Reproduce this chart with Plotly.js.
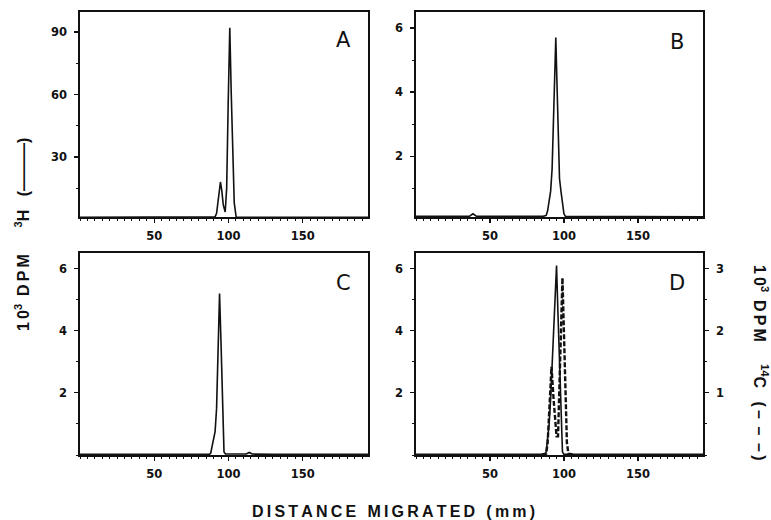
<!DOCTYPE html>
<html>
<head>
<meta charset="utf-8">
<script src="https://cdn.plot.ly/plotly-3.0.1.min.js"></script>
<style>html,body{margin:0;padding:0;background:#fff;}#chart{width:771px;height:520px;}</style>
</head>
<body>
<div id="chart"></div>
<script>
// Panel A: 3H (10^3 DPM)
var xA = [0, 20, 40, 60, 80, 90, 91, 92, 93, 94, 94.6, 95.5, 96.5, 97.8, 98.8, 99.8, 100.9, 101.9, 102.9, 103.9, 105.2, 110, 130, 160, 194];
var yA = [1, 1, 1, 1, 1, 1, 1.3, 3, 8, 15, 18, 14, 7, 3.6, 15, 55, 92, 60, 28, 8, 1.2, 1, 1, 1, 1];

// Panel B
var xB = [0, 10, 20, 30, 36, 38.5, 41, 50, 60, 70, 80, 86, 88, 89, 90, 91, 92, 93, 94, 94.5, 95, 96, 97, 98, 99, 100, 101, 110, 130, 160, 194];
var yB = [0.12, 0.12, 0.12, 0.12, 0.12, 0.2, 0.12, 0.12, 0.11, 0.12, 0.12, 0.12, 0.15, 0.3, 0.6, 0.9, 1.6, 3.0, 5.0, 5.7, 4.8, 2.8, 1.3, 0.9, 0.5, 0.2, 0.12, 0.12, 0.11, 0.11, 0.11];

// Panel C
var xC = [0, 50, 80, 87, 88, 89, 90, 91, 92, 93, 94, 95, 96, 97, 98, 105, 112, 114, 116, 130, 160, 194];
var yC = [0.02, 0.02, 0.02, 0.02, 0.05, 0.25, 0.5, 0.75, 1.5, 3.5, 5.2, 3.6, 1.7, 0.1, 0.03, 0.03, 0.03, 0.08, 0.03, 0.02, 0.02, 0.02];

// Panel D: 3H (solid, left axis) and 14C (dashed, right axis)
var xD3H = [0, 50, 80, 87, 88, 89, 90, 91, 92, 93, 94, 95, 96, 97, 98, 99, 100, 130, 160, 194];
var yD3H = [0.02, 0.02, 0.02, 0.02, 0.1, 0.5, 1.0, 1.8, 2.8, 4.0, 5.2, 6.1, 4.5, 2.8, 1.0, 0.1, 0.02, 0.02, 0.02, 0.02];
var xD14C = [85, 88, 89, 90, 91, 91.6, 93, 94, 95, 96, 97, 98, 99, 100, 101, 102, 103, 106];
var yD14C = [0.01, 0.02, 0.2, 0.7, 1.2, 1.42, 0.9, 0.5, 0.3, 0.3, 1.0, 2.0, 2.85, 2.0, 1.0, 0.2, 0.02, 0.01];

var xTickVals = [50, 100, 150];
var panelLabels = ["A", "B", "C", "D"];

(function () {
var tickFont = {family: "DejaVu Sans, sans-serif", size: 11.5, color: "#111", weight: "bold"};
var lineCol = "#111";

function xax(domain, anchor) {
  return {
    domain: domain, anchor: anchor, range: [0, 194],
    showline: true, mirror: true, linecolor: lineCol, linewidth: 1.6,
    showgrid: false, zeroline: false,
    tickmode: "array", tickvals: xTickVals,
    ticks: "outside", ticklen: 4, tickwidth: 1.2, tickcolor: lineCol,
    minor: {dtick: 5, ticks: "outside", ticklen: 2, tickwidth: 1, tickcolor: lineCol, showgrid: false},
    tickfont: tickFont, ticklabelstandoff: 4
  };
}
function yax(domain, anchor, range, vals, minorD) {
  return {
    domain: domain, anchor: anchor, range: range,
    showline: true, mirror: true, linecolor: lineCol, linewidth: 1.6,
    showgrid: false, zeroline: false,
    tickmode: "array", tickvals: vals,
    ticks: "outside", ticklen: 4, tickwidth: 1.2, tickcolor: lineCol,
    minor: {dtick: minorD, tick0: 0, ticks: "outside", ticklen: 2, tickwidth: 1, tickcolor: lineCol, showgrid: false},
    tickfont: tickFont, ticklabelstandoff: 5
  };
}

var colL = [80/771, 368/771], colR = [416/771, 703/771];
var rowT = [1 - 217/520, 1 - 12/520], rowB = [1 - 455/520, 1 - 253/520];

var solid = {color: "#111", width: 1.6};
var traces = [
  {x: xA, y: yA, xaxis: "x", yaxis: "y", mode: "lines", line: solid},
  {x: xB, y: yB, xaxis: "x2", yaxis: "y2", mode: "lines", line: solid},
  {x: xC, y: yC, xaxis: "x3", yaxis: "y3", mode: "lines", line: solid},
  {x: xD3H, y: yD3H, xaxis: "x4", yaxis: "y4", mode: "lines", line: solid},
  {x: xD14C, y: yD14C, xaxis: "x4", yaxis: "y5", mode: "lines", line: {color: "#111", width: 2.4, dash: "5px,2px"}}
];

var yA_ax = yax(rowT, "x", [1.2, 99.6], [30, 60, 90], 15);
var yB_ax = yax(rowT, "x2", [0.1, 6.5], [2, 4, 6], 1);
var yC_ax = yax(rowB, "x3", [0, 6.5], [2, 4, 6], 1);
var yD_ax = yax(rowB, "x4", [0, 6.5], [2, 4, 6], 1);
var yD_right = yax(rowB, "x4", [0, 3.25], [1, 2, 3], 0.5);
yD_right.overlaying = "y4"; yD_right.side = "right"; yD_right.mirror = false;

var T = "\u2009"; // thin space for letter spacing
var W = "\u2002\u2009"; // word gap
function spaced(s) { return s.split("").join(T); }

function ann(text, px, py, opts) {
  var a = {text: text, x: px/771, y: 1 - py/520, xref: "paper", yref: "paper", showarrow: false,
           xanchor: "center", yanchor: "middle",
           font: {family: "Liberation Sans, Arial, sans-serif", size: 16, color: "#111", weight: "bold"}};
  for (var k in opts) a[k] = opts[k];
  return a;
}
var letterFont = {family: "DejaVu Sans, sans-serif", size: 21, color: "#111"};
var leftTitle = "1" + T + "0<sup>3</sup>" + T + " " + spaced("DPM") + "      <sup>3</sup>H" + "   (———)";
var rightTitle = "1" + T + "0<sup>3</sup>" + T + " " + spaced("DPM") + "     <sup>14</sup>C" + "   (" + T + "–" + T + " –" + T + " –" + T + ")";
var xTitle = spaced("DISTANCE") + W + spaced("MIGRATED") + W + spaced("(mm)");
var annotations = [
  ann(panelLabels[0], 343, 40, {font: letterFont}),
  ann(panelLabels[1], 677, 42, {font: letterFont}),
  ann(panelLabels[2], 343, 283, {font: letterFont}),
  ann(panelLabels[3], 677, 283, {font: letterFont}),
  ann(leftTitle, 22, 235, {textangle: -90}),
  ann(rightTitle, 761, 362, {textangle: 90}),
  ann(xTitle, 394, 511, {})
];

var layout = {
  width: 771, height: 520,
  margin: {l: 0, r: 0, t: 0, b: 0},
  paper_bgcolor: "#fff", plot_bgcolor: "#fff",
  showlegend: false,
  xaxis: xax(colL, "y"), yaxis: yA_ax,
  xaxis2: xax(colR, "y2"), yaxis2: yB_ax,
  xaxis3: xax(colL, "y3"), yaxis3: yC_ax,
  xaxis4: xax(colR, "y4"), yaxis4: yD_ax,
  yaxis5: yD_right,
  annotations: annotations
};

Plotly.newPlot("chart", traces, layout, {staticPlot: true});
})();
</script>
</body>
</html>
